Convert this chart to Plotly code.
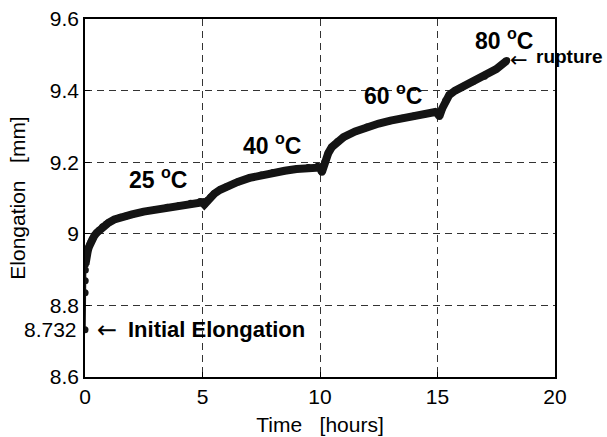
import plotly.graph_objects as go

# Elongation vs time
time_h = [0, 0.005, 0.01, 0.015, 0.02, 0.03, 0.05, 0.08, 0.12, 0.16, 0.2, 0.25, 0.3, 0.4, 0.5,
          0.6, 0.75, 0.9, 1.0, 1.25, 1.5, 1.75, 2.0, 2.5, 3.0, 3.5, 4.0, 4.5, 4.9, 5.0, 5.08,
          5.2, 5.35, 5.5, 5.75, 6.0, 6.5, 7.0, 7.5, 8.0, 8.5, 9.0, 9.5, 9.9, 10.0, 10.08,
          10.2, 10.35, 10.5, 10.75, 11.0, 11.5, 12.0, 12.5, 13.0, 13.5, 14.0, 14.5, 14.9, 15.0, 15.08,
          15.2, 15.35, 15.5, 15.75, 16.0, 16.5, 17.0, 17.5, 17.95]
elong_mm = [8.732, 8.835, 8.869, 8.899, 8.915, 8.925, 8.935, 8.945, 8.953, 8.962, 8.970, 8.978, 8.985, 8.995, 9.003,
            9.010, 9.020, 9.027, 9.031, 9.040, 9.046, 9.050, 9.054, 9.062, 9.068, 9.074, 9.079, 9.085, 9.090, 9.088, 9.082,
            9.093, 9.103, 9.112, 9.123, 9.131, 9.145, 9.156, 9.164, 9.171, 9.176, 9.181, 9.185, 9.189, 9.185, 9.172,
            9.200, 9.225, 9.242, 9.258, 9.270, 9.286, 9.298, 9.308, 9.316, 9.323, 9.329, 9.335, 9.340, 9.336, 9.328,
            9.350, 9.372, 9.388, 9.400, 9.408, 9.425, 9.440, 9.460, 9.484]
dense_start = 4  # index from which the sampled points form a continuous dense band

x_ticks = [0, 5, 10, 15, 20]
y_ticks = [8.6, 8.8, 9.0, 9.2, 9.4, 9.6]
y_tick_text = ["8.6", "8.8", "9", "9.2", "9.4", "9.6"]
initial_value = 8.732

temp_labels = ["25 <sup>o</sup>C", "40 <sup>o</sup>C", "60 <sup>o</sup>C", "80 <sup>o</sup>C"]
temp_x = [1.83, 6.67, 11.84, 16.55]
temp_y = [9.1545, 9.250, 9.390, 9.543]

FONT = "Liberation Sans, Arial, sans-serif"
ARROW_FONT = "DejaVu Sans, sans-serif"
ink = "#141414"

fig = go.Figure()
fig.add_trace(go.Scatter(x=time_h, y=elong_mm, mode="lines+markers",
                         line=dict(color=ink, width=1.5),
                         marker=dict(color=ink, size=7), showlegend=False))
fig.add_trace(go.Scatter(x=time_h[dense_start:], y=elong_mm[dense_start:], mode="lines",
                         line=dict(color=ink, width=8), showlegend=False))

for t, x, y in zip(temp_labels, temp_x, temp_y):
    fig.add_annotation(x=x, y=y, text="<b>" + t + "</b>", showarrow=False,
                       font=dict(family=FONT, size=23, color="black"),
                       xanchor="left", yanchor="middle", borderpad=0)

# rupture marker
fig.add_annotation(x=18.05, y=9.486, text="\u2190", showarrow=False,
                   font=dict(family=ARROW_FONT, size=21, color="black"),
                   xanchor="left", yanchor="middle", borderpad=0)
fig.add_annotation(x=19.15, y=9.494, text="<b>rupture</b>", showarrow=False,
                   font=dict(family=FONT, size=19, color="black"),
                   xanchor="left", yanchor="middle", borderpad=0)
# initial elongation marker
fig.add_annotation(x=0.45, y=initial_value, text="\u2190", showarrow=False,
                   font=dict(family=ARROW_FONT, size=24, color="black"),
                   xanchor="left", yanchor="middle", borderpad=0)
fig.add_annotation(x=1.78, y=initial_value, text="<b>Initial Elongation</b>", showarrow=False,
                   font=dict(family=FONT, size=22, color="black"),
                   xanchor="left", yanchor="middle", borderpad=0)
fig.add_annotation(xref="paper", x=0, y=initial_value, text=str(initial_value), showarrow=False,
                   font=dict(family=FONT, size=21, color="black"),
                   xanchor="right", yanchor="middle", xshift=-6)

axis_common = dict(showline=True, linecolor="black", linewidth=1.5, mirror=True,
                   ticks="inside", ticklen=5, tickcolor="black", automargin=False,
                   showgrid=True, gridcolor="#333333", gridwidth=1, griddash="7px,5px",
                   zeroline=False, tickfont=dict(family=FONT, size=21, color="black"))

fig.update_xaxes(range=[0, 20], tickvals=x_ticks, title=dict(text="Time   [hours]", standoff=10,
                 font=dict(family=FONT, size=21, color="black")), **axis_common)
fig.update_yaxes(range=[8.6, 9.6], tickvals=y_ticks, ticktext=y_tick_text,
                 title=dict(text="Elongation   [mm]", standoff=18,
                            font=dict(family=FONT, size=21, color="black")), **axis_common)

fig.update_layout(width=607, height=437, margin=dict(l=85, r=52, t=19, b=60),
                  plot_bgcolor="white", paper_bgcolor="white",
                  font=dict(family=FONT, color="black"))

fig.write_html("out.html")
